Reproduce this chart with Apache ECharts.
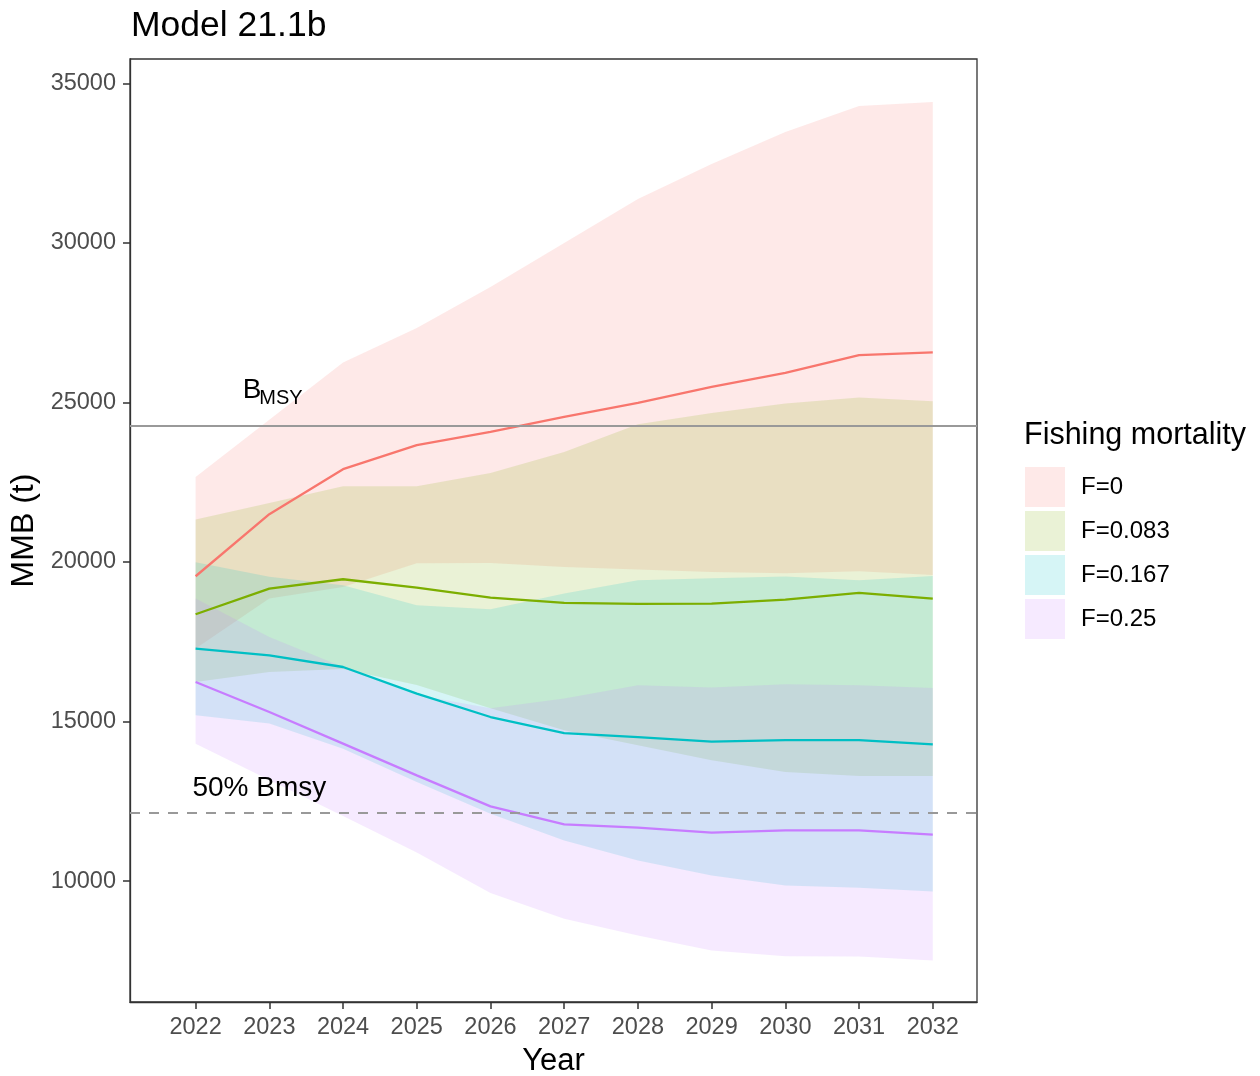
<!DOCTYPE html>
<html>
<head>
<meta charset="utf-8">
<script src="https://cdn.jsdelivr.net/npm/echarts@6.0.0/dist/echarts.min.js"></script>
<style>
html,body{margin:0;padding:0;background:#fff;}
#chart{width:1260px;height:1076px;}
</style>
</head>
<body>
<div id="chart"></div>
<script>
// ---------------- data ----------------
const years = [2022, 2023, 2024, 2025, 2026, 2027, 2028, 2029, 2030, 2031, 2032];
const yTicks = [10000, 15000, 20000, 25000, 30000, 35000];
const scenarioNames = ['F=0', 'F=0.083', 'F=0.167', 'F=0.25'];

const f0Mid = [19554, 21497, 22908, 23661, 24078, 24548, 24987, 25488, 25927, 26482, 26567];
const f0Hi  = [22667, 24454, 26250, 27329, 28614, 29993, 31373, 32470, 33473, 34288, 34414];
const f0Lo  = [17287, 18855, 19218, 19961, 19971, 19846, 19763, 19690, 19648, 19710, 19592];

const f083Mid = [18363, 19168, 19460, 19200, 18886, 18717, 18686, 18698, 18824, 19030, 18855];
const f083Hi  = [21331, 21852, 22375, 22375, 22792, 23451, 24319, 24673, 24968, 25156, 25040];
const f083Lo  = [16240, 16550, 16650, 16150, 15420, 14726, 14256, 13785, 13419, 13293, 13293];

const f167Mid = [17287, 17077, 16710, 15876, 15143, 14641, 14516, 14372, 14422, 14422, 14287];
const f167Hi  = [19990, 19540, 19270, 18645, 18520, 19011, 19430, 19490, 19550, 19430, 19560];
const f167Lo  = [15196, 14937, 14150, 13105, 12114, 11277, 10650, 10180, 9866, 9795, 9679];

const f25Mid = [16240, 15300, 14309, 13315, 12343, 11779, 11675, 11519, 11591, 11591, 11456];
const f25Hi  = [18855, 17650, 16710, 15830, 15420, 15720, 16137, 16064, 16168, 16137, 16052];
const f25Lo  = [14309, 13170, 12040, 10900, 9625, 8823, 8299, 7829, 7650, 7640, 7516];

const bmsy = 24266;
const halfBmsy = 12133;

// ---------------- style ----------------
const FONT = '"Liberation Sans", Arial, Helvetica, sans-serif';
const lineColors = ['#F8766D', '#7CAE00', '#00BFC4', '#C77CFF'];
const ALPHA = 0.16;
function fade(hex, a) {
  const r = parseInt(hex.slice(1, 3), 16), g = parseInt(hex.slice(3, 5), 16), b = parseInt(hex.slice(5, 7), 16);
  return 'rgba(' + r + ',' + g + ',' + b + ',' + a + ')';
}

const mids = [f0Mid, f083Mid, f167Mid, f25Mid];
const his = [f0Hi, f083Hi, f167Hi, f25Hi];
const los = [f0Lo, f083Lo, f167Lo, f25Lo];

function ribbonSeries(k) {
  const lo = los[k], hi = his[k];
  return {
    name: scenarioNames[k],
    type: 'custom',
    coordinateSystem: 'cartesian2d',
    z: 1,
    silent: true,
    itemStyle: { color: fade(lineColors[k], ALPHA) },
    data: years.map((y, i) => [y, lo[i], hi[i]]),
    encode: { x: 0, y: [1, 2] },
    renderItem: function (params, api) {
      if (params.dataIndex !== 0) return null;
      const pts = [];
      for (let i = 0; i < years.length; i++) pts.push(api.coord([years[i], hi[i]]));
      for (let i = years.length - 1; i >= 0; i--) pts.push(api.coord([years[i], lo[i]]));
      return { type: 'polygon', shape: { points: pts }, style: { fill: fade(lineColors[k], ALPHA), stroke: null } };
    }
  };
}

function lineSeries(k) {
  return {
    name: scenarioNames[k] + ' median',
    type: 'line',
    z: 3,
    silent: true,
    symbol: 'none',
    data: years.map((y, i) => [y, mids[k][i]]),
    lineStyle: { color: lineColors[k], width: 2.3 },
    itemStyle: { color: lineColors[k] }
  };
}

const series = [];
for (let k = 0; k < 4; k++) series.push(ribbonSeries(k));
series.push({
  name: 'reference',
  type: 'line',
  z: 2,
  silent: true,
  symbol: 'none',
  data: [[years[0], bmsy]],
  lineStyle: { opacity: 0 },
  markLine: {
    silent: true,
    symbol: ['none', 'none'],
    label: { show: false },
    data: [
      { yAxis: bmsy, lineStyle: { type: 'solid', color: '#999999', width: 2 } },
      { yAxis: halfBmsy, lineStyle: { type: [10, 9], color: '#999999', width: 2 } }
    ]
  }
});
for (let k = 0; k < 4; k++) series.push(lineSeries(k));
series.push({
  name: 'annotations',
  type: 'custom',
  coordinateSystem: 'cartesian2d',
  z: 5,
  silent: true,
  data: [[2023, bmsy]],
  renderItem: function (params, api) {
    const a = api.coord([2023, bmsy]);
    const b = api.coord([2023, halfBmsy]);
    return {
      type: 'group',
      children: [
        { type: 'text', x: a[0] - 8, y: a[1] - 36, style: { text: 'B', fontSize: 28, fontFamily: FONT, fill: '#000', align: 'right', verticalAlign: 'middle' } },
        { type: 'text', x: a[0] - 10, y: a[1] - 27, style: { text: 'MSY', fontSize: 20, fontFamily: FONT, fill: '#000', align: 'left', verticalAlign: 'middle' } },
        { type: 'text', x: b[0] - 10, y: b[1] - 25, style: { text: '50% Bmsy', fontSize: 28, fontFamily: FONT, fill: '#000', align: 'center', verticalAlign: 'middle' } }
      ]
    };
  }
});

const chart = echarts.init(document.getElementById('chart'), null, { renderer: 'canvas' });
chart.setOption({
  animation: false,
  backgroundColor: '#ffffff',
  textStyle: { fontFamily: FONT },
  title: {
    text: 'Model 21.1b',
    left: 126,
    top: 3,
    textStyle: { fontSize: 35.5, fontWeight: 'normal', color: '#000', fontFamily: FONT }
  },
  grid: {
    left: 130, top: 59, right: 283, bottom: 74,
    outerBoundsMode: 'none',
    containLabel: false,
    show: true, borderColor: '#333333', borderWidth: 1.3, backgroundColor: 'transparent'
  },
  legend: {
    orient: 'vertical',
    left: 1025,
    top: 467,
    padding: 0,
    itemWidth: 40,
    itemHeight: 40,
    itemGap: 4,
    icon: 'rect',
    selectedMode: false,
    textStyle: { fontSize: 24, color: '#000', fontFamily: FONT, padding: [0, 0, 0, 11] },
    data: scenarioNames.map((n, k) => ({ name: n, itemStyle: { color: fade(lineColors[k], ALPHA) } }))
  },
  graphic: [
    { type: 'text', left: 1024, top: 420, style: { text: 'Fishing mortality', fontSize: 30.5, fontFamily: FONT, fill: '#000' } }
  ],
  xAxis: {
    type: 'value',
    min: 2021.11,
    max: 2032.6,
    name: 'Year',
    nameLocation: 'middle',
    nameGap: 44,
    nameTextStyle: { fontSize: 31, color: '#000', fontFamily: FONT },
    axisLine: { show: true, lineStyle: { color: '#333333', width: 1.3 } },
    axisTick: { show: true, customValues: years, length: 7, lineStyle: { color: '#333333', width: 1.5 } },
    axisLabel: { customValues: years, fontSize: 23.5, color: '#4D4D4D', margin: 14, formatter: v => String(v) },
    splitLine: { show: false }
  },
  yAxis: {
    type: 'value',
    min: 6213,
    max: 35762,
    name: 'MMB (t)',
    nameLocation: 'middle',
    nameGap: 86,
    nameTextStyle: { fontSize: 32, color: '#000', fontFamily: FONT },
    axisLine: { show: true, lineStyle: { color: '#333333', width: 1.3 } },
    axisTick: { show: true, customValues: yTicks, length: 7, lineStyle: { color: '#333333', width: 1.5 } },
    axisLabel: { customValues: yTicks, fontSize: 23.5, color: '#4D4D4D', margin: 14, formatter: v => String(v) },
    splitLine: { show: false }
  },
  series: series
});
</script>
</body>
</html>
